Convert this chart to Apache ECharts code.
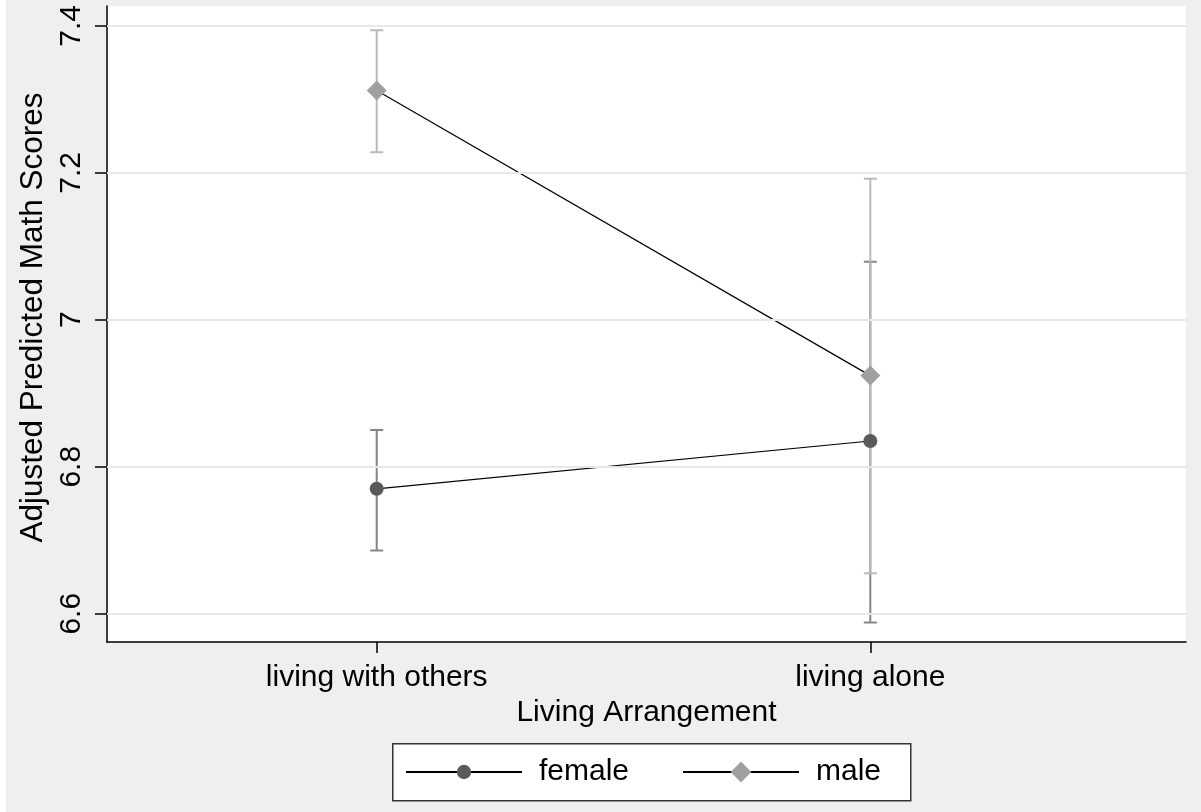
<!DOCTYPE html>
<html>
<head>
<meta charset="utf-8">
<script src="https://cdn.jsdelivr.net/npm/echarts@6/dist/echarts.min.js"></script>
<style>
	html, body { margin: 0; padding: 0; background: #efefef; }
	#main { width: 1201px; height: 812px; }
</style>
</head>
<body>
<div id="main"></div>
<script>
	// categories on the x axis (positions 0 and 1)
	var categories = ['living with others', 'living alone'];
	var catPos = [0, 1];
	// y tick labels
	var yTicks = [6.6, 6.8, 7.0, 7.2, 7.4];

	// predicted margins and confidence limits
	var femaleMean = [6.770, 6.835];
	var femaleLow = [6.686, 6.588];
	var femaleHigh = [6.850, 7.079];

	var maleMean = [7.312, 6.924];
	var maleLow = [7.228, 6.655];
	var maleHigh = [7.394, 7.192];

	var FONT = '"Liberation Sans", Arial, sans-serif';
	var FS = 30;

	function pairs(means) {
		return catPos.map(function (p, i) { return [p, means[i]]; });
	}
	function ciData(low, high) {
		return catPos.map(function (p, i) { return [p, low[i], high[i]]; });
	}

	function errorBar(color) {
		return function (params, api) {
			var x = api.value(0);
			var lo = api.coord([x, api.value(1)]);
			var hi = api.coord([x, api.value(2)]);
			var cap = 6.5;
			var st = { stroke: color, lineWidth: 2 };
			return {
				type: 'group',
				children: [
					{ type: 'line', shape: { x1: lo[0], y1: lo[1], x2: hi[0], y2: hi[1] }, style: st },
					{ type: 'line', shape: { x1: lo[0] - cap, y1: lo[1], x2: lo[0] + cap, y2: lo[1] }, style: st },
					{ type: 'line', shape: { x1: hi[0] - cap, y1: hi[1], x2: hi[0] + cap, y2: hi[1] }, style: st }
				]
			};
		};
	}

	function legendFor(name, left, h) {
		return {
			left: left, top: 757,
			padding: 0,
			itemWidth: 116,
			itemHeight: h,
			textStyle: { fontFamily: FONT, fontSize: FS, color: '#000', padding: [0, 0, 0, 12] },
			data: [name]
		};
	}

	var chart = echarts.init(document.getElementById('main'));
	chart.setOption({
		backgroundColor: '#efefef',
		animation: false,
		textStyle: { fontFamily: FONT },
		graphic: [{
			type: 'rect', left: 0, top: 0, z: -10,
			shape: { width: 6, height: 812 },
			style: { fill: '#ffffff' }
		}, {
			// legend frame
			type: 'rect', left: 392, top: 743, z: -5,
			shape: { width: 518, height: 57 },
			style: { fill: '#ffffff', stroke: '#333333', lineWidth: 1.5 }
		}],
		grid: {
			left: 107, right: 15, top: 6, bottom: 170,
			show: true, backgroundColor: '#ffffff', borderWidth: 0
		},
		legend: [legendFor('female', 405, 18), legendFor('male', 682, 26)],
		xAxis: {
			type: 'value',
			min: -0.5464,
			max: 1.6396,
			name: 'Living Arrangement',
			nameLocation: 'middle',
			nameGap: 52,
			nameTextStyle: { fontFamily: FONT, fontSize: FS, color: '#000' },
			axisLine: { show: true, onZero: false, lineStyle: { color: '#000', width: 1.5 } },
			axisTick: { show: true, length: 11, customValues: catPos, lineStyle: { color: '#000', width: 1.5 } },
			axisLabel: {
				customValues: catPos,
				margin: 21,
				fontFamily: FONT, fontSize: FS, color: '#000',
				formatter: function (v) { return categories[Math.round(v)]; }
			},
			splitLine: { show: false }
		},
		yAxis: {
			type: 'value',
			min: 6.5615,
			max: 7.427,
			name: 'Adjusted Predicted Math Scores',
			nameLocation: 'middle',
			nameRotate: 90,
			nameGap: 52,
			nameTextStyle: { fontFamily: FONT, fontSize: 31.5, color: '#000', padding: [0, 0, 0, 13] },
			axisLine: { show: true, onZero: false, lineStyle: { color: '#000', width: 1.5 } },
			axisTick: { show: true, length: 12, customValues: yTicks, lineStyle: { color: '#000', width: 1.5 } },
			axisLabel: {
				customValues: yTicks,
				rotate: 90,
				margin: 20,
				fontFamily: FONT, fontSize: FS, color: '#000',
				formatter: function (v) { return String(Math.round(v * 10) / 10); }
			},
			splitLine: { show: false }
		},
		series: [
			{
				type: 'custom',
				name: 'female CI',
				z: 1,
				renderItem: errorBar('#858585'),
				data: ciData(femaleLow, femaleHigh),
				markLine: {
					silent: true,
					symbol: 'none',
					label: { show: false },
					lineStyle: { color: '#e8e8e8', width: 2, type: 'solid' },
					data: yTicks.map(function (t) { return { yAxis: t }; })
				}
			},
			{
				type: 'custom',
				name: 'male CI',
				z: 2,
				renderItem: errorBar('#b9b9b9'),
				data: ciData(maleLow, maleHigh)
			},
			{
				type: 'line',
				name: 'female',
				z: 3,
				data: pairs(femaleMean),
				symbol: 'circle',
				symbolSize: 14,
				showAllSymbol: true,
				itemStyle: { color: '#5a5a5a' },
				lineStyle: { color: '#000000', width: 1.2 }
			},
			{
				type: 'line',
				name: 'male',
				z: 4,
				data: pairs(maleMean),
				symbol: 'diamond',
				symbolSize: 20,
				showAllSymbol: true,
				itemStyle: { color: '#a0a0a0' },
				lineStyle: { color: '#000000', width: 1.2 }
			}
		]
	});
</script>
</body>
</html>
